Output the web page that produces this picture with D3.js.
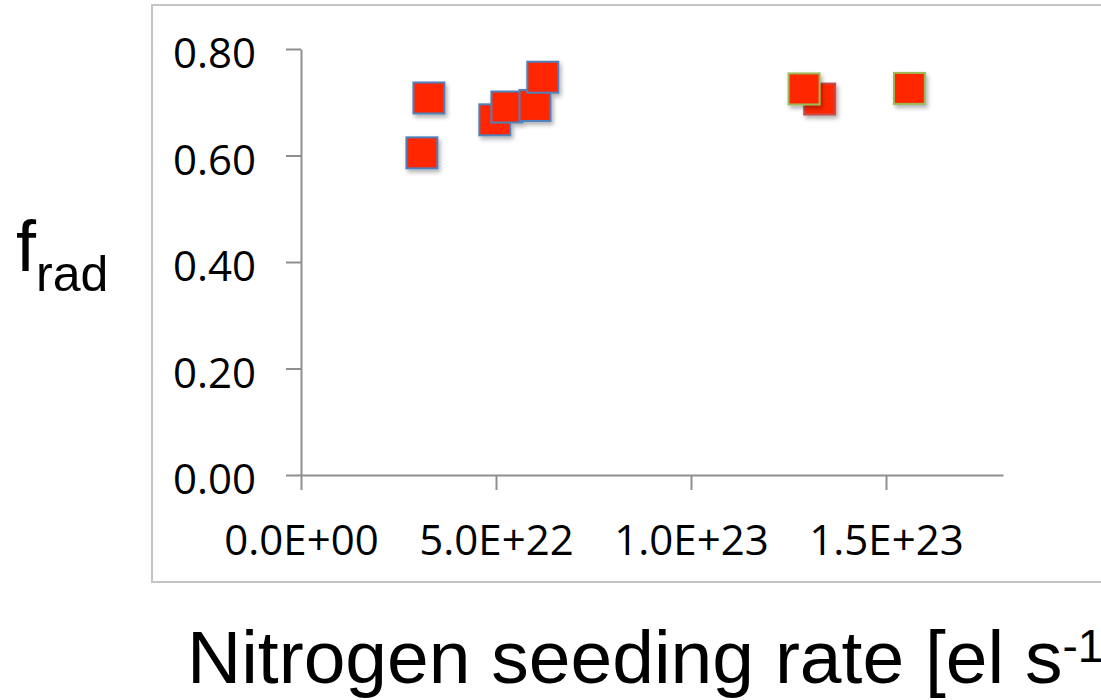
<!DOCTYPE html>
<html>
<head>
<meta charset="utf-8">
<script src="https://cdn.jsdelivr.net/npm/d3@7"></script>
<style>
  body { margin: 0; background: #fff; }
  svg { display: block; }
</style>
</head>
<body>
<div id="chart"></div>
<script>
// data
const series1X = [3.10e22, 3.28e22, 4.97e22, 5.28e22, 6.0e22, 6.2e22];
const series1Y = [0.605, 0.708, 0.667, 0.691, 0.694, 0.747];
const series2X = [1.33e23];
const series2Y = [0.706];
const series3X = [1.29e23, 1.56e23];
const series3Y = [0.725, 0.726];
const xTicks = [0, 5e22, 1e23, 1.5e23];
const yTicks = [0, 0.2, 0.4, 0.6, 0.8];

const seriesList = [
  { xs: series1X, ys: series1Y, edge: "#4f81bd" },
  { xs: series2X, ys: series2Y, edge: "#c0504d" },
  { xs: series3X, ys: series3Y, edge: "#9bbb59" },
];

const svg = d3
  .select("#chart")
  .append("svg")
  .attr("width", 1101)
  .attr("height", 700);

// soft shadow under the markers
const defs = svg.append("defs");
defs
  .append("filter")
  .attr("id", "shadow")
  .attr("x", "-30%")
  .attr("y", "-30%")
  .attr("width", "170%")
  .attr("height", "170%")
  .append("feDropShadow")
  .attr("dx", 2)
  .attr("dy", 3)
  .attr("stdDeviation", 2)
  .attr("flood-color", "#000")
  .attr("flood-opacity", 0.3);

// chart frame
svg
  .append("rect")
  .attr("x", 152)
  .attr("y", 5)
  .attr("width", 1000)
  .attr("height", 577)
  .attr("fill", "none")
  .attr("stroke", "#c4c4c4")
  .attr("stroke-width", 2);

const x = d3.scaleLinear().domain([0, 1.8e23]).range([301, 1003]);
const y = d3.scaleLinear().domain([0, 0.8]).range([475, 49]);

const tickFont = "'Open Sans', 'Liberation Sans', sans-serif";

// X axis
const xAxis = svg
  .append("g")
  .attr("transform", "translate(0,475)")
  .call(
    d3
      .axisBottom(x)
      .tickValues(xTicks)
      .tickSize(15)
      .tickSizeOuter(0)
      .tickFormat((d) => d.toExponential(1).toUpperCase().replace(/E([+-])(\d)$/, "E$10$2"))
  );
xAxis.select(".domain").attr("stroke", "#8e8e8e").attr("stroke-width", 2);
xAxis.selectAll(".tick line").attr("stroke", "#8e8e8e").attr("stroke-width", 2);
xAxis
  .selectAll(".tick text")
  .attr("y", 80)
  .attr("dy", null)
  .attr("fill", "#000")
  .style("font-family", tickFont)
  .style("font-size", "42px");

// Y axis
const yAxis = svg
  .append("g")
  .attr("transform", "translate(301,0)")
  .call(
    d3
      .axisLeft(y)
      .tickValues(yTicks)
      .tickSize(15)
      .tickSizeOuter(0)
      .tickPadding(30)
      .tickFormat(d3.format(".2f"))
  );
yAxis.select(".domain").attr("stroke", "#8e8e8e").attr("stroke-width", 2);
yAxis.selectAll(".tick line").attr("stroke", "#8e8e8e").attr("stroke-width", 2);
yAxis
  .selectAll(".tick text")
  .attr("dy", "0.45em")
  .attr("fill", "#000")
  .style("font-family", tickFont)
  .style("font-size", "42px");

// markers, series in order so later ones sit on top
const side = 31;
seriesList.forEach(function (s) {
  const pts = s.xs.map((v, i) => ({ x: v, y: s.ys[i] }));
  svg
    .append("g")
    .attr("filter", "url(#shadow)")
    .selectAll("rect")
    .data(pts)
    .join("rect")
    .attr("x", (d) => x(d.x) - side / 2)
    .attr("y", (d) => y(d.y) - side / 2)
    .attr("width", side)
    .attr("height", side)
    .attr("fill", "#ff2600")
    .attr("stroke", s.edge)
    .attr("stroke-width", 2);
});

// axis titles
const titleFont = "'Liberation Sans', Arial, sans-serif";
const yTitle = svg
  .append("text")
  .attr("x", 16)
  .attr("y", 271)
  .style("font-family", titleFont)
  .style("font-size", "72px")
  .attr("fill", "#000");
yTitle.append("tspan").text("f");
yTitle
  .append("tspan")
  .attr("dy", 20)
  .style("font-size", "50px")
  .text("rad");

const xTitle = svg
  .append("text")
  .attr("x", 187)
  .attr("y", 683)
  .style("font-family", titleFont)
  .style("font-size", "75px")
  .attr("fill", "#000");
xTitle.append("tspan").text("Nitrogen seeding rate [el s");
xTitle
  .append("tspan")
  .attr("dy", -21)
  .style("font-size", "46px")
  .text("-1");
</script>
</body>
</html>
